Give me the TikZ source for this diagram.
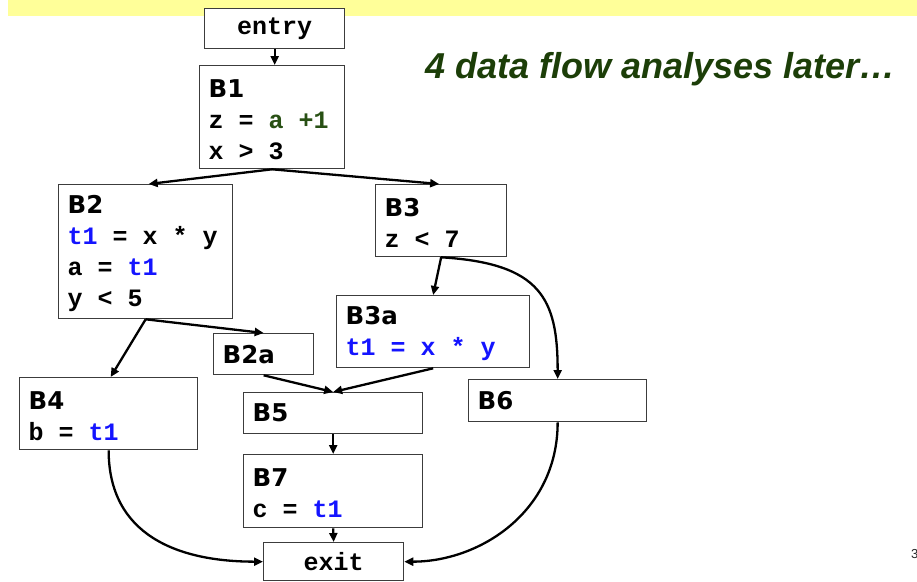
\documentclass[tikz,border=0pt]{standalone}
\usepackage{fontspec}
\setmainfont{Liberation Sans}
\setmonofont{Liberation Mono}
\newfontfamily\labelfont{DejaVu Sans}
\usetikzlibrary{arrows.meta}

\definecolor{bandyellow}{RGB}{255,255,153}
\definecolor{titlegreen}{RGB}{28,62,8}
\definecolor{codegreen}{RGB}{40,80,20}
\definecolor{codeblue}{RGB}{20,20,255}
\definecolor{boxgray}{RGB}{60,60,60}

% block label (sans bold), first line of a multi-line block, code line (mono bold, full-width spaces)
\newcommand\bname[1]{{\labelfont\bfseries\fontsize{24.5}{31}\selectfont #1}}
\newcommand\bfirst[1]{\rule{0pt}{22pt}\bname{#1}}
\newcommand\code[1]{{\ttfamily\bfseries\spaceskip=0.6em\relax #1}}
\newcommand\tone{\textcolor{codeblue}{t1}}

\tikzset{
  blk/.style={draw=boxgray, fill=white, line width=1.3pt, rectangle,
    inner xsep=9pt, inner ysep=0pt, anchor=north west, align=left,
    font=\fontsize{25}{31}\selectfont},
  termblk/.style={blk, align=center},
  flow/.style={-{Triangle[length=9pt,width=8pt]}, line width=2.3pt, black},
}

\begin{document}
\begin{tikzpicture}[x=1pt, y=-1pt]
\useasboundingbox (0,0) rectangle (917,581);

% header band
\fill[bandyellow] (8,0) rectangle (917,16);

% heading
\node[anchor=base west, inner sep=0pt, text=titlegreen,
  font=\fontsize{36}{40}\selectfont\bfseries\itshape] (title) at (425,78)
  {4 data flow analyses later…};

% basic blocks
\node[termblk, minimum height=40pt, text width=122pt] (entry) at (204,8) {\code{entry}};
\node[blk, minimum height=103pt, text width=127pt] (B1) at (199,65)
  {\bfirst{B1}\\ \code{z = \textcolor{codegreen}{a +1}}\\ \code{x > 3}};
\node[blk, minimum height=134pt, text width=156pt] (B2) at (58,184)
  {\bfirst{B2}\\ \code{\tone{} = x * y}\\ \code{a = \tone}\\ \code{y < 5}};
\node[blk, minimum height=72pt, text width=113pt] (B3) at (375,184)
  {\bfirst{B3}\\ \code{z < 7}};
\node[blk, minimum height=72pt, text width=175pt] (B3a) at (336,295)
  {\bfirst{B3a}\\ \code{\textcolor{codeblue}{t1 = x * y}}};
\node[blk, minimum height=41pt, text width=82pt] (B2a) at (213,333)
  {\bname{B2a}};
\node[blk, minimum height=72pt, text width=160pt] (B4) at (19,377)
  {\bfirst{B4}\\ \code{b = \tone}};
\node[blk, minimum height=41pt, text width=161pt] (B5) at (243,392)
  {\bname{B5}};
\node[blk, minimum height=42pt, text width=160pt] (B6) at (468,379)
  {\bname{B6}};
\node[blk, minimum height=73pt, text width=161pt] (B7) at (243,454)
  {\bfirst{B7}\\ \code{c = \tone}};
\node[termblk, minimum height=38pt, text width=122pt] (exit) at (263,542) {\code{exit}};

% control flow edges
\draw[flow] (entry.south) -- (entry.south |- B1.north);
\draw[flow] (B1.south) -- ([xshift=3pt]B2.north);
\draw[flow] (B1.south) -- ([xshift=-2pt]B3.north);
\draw[flow] (B2.south) -- ([xshift=2pt]B4.north);
\draw[flow] (B2.south) -- (B2a.north);
\draw[flow] (B3.south) -- (B3a.north);
\draw[flow] (B3.south) .. controls +(100,6) and +(0,-80) .. (B6.north);
\draw[flow] (B2a.south) -- (B5.north);
\draw[flow] (B3a.south) -- (B5.north);
\draw[flow] (B5.south) -- (B7.north);
\draw[flow] (B7.south) -- (exit.north);
\draw[flow] (B4.south) .. controls +(0,85) and +(-85,0) .. (exit.west);
\draw[flow] (B6.south) .. controls +(0,90) and +(75,0) .. (exit.east);

% page number
\node[anchor=base west, inner sep=0pt, text=black!85,
  font=\fontsize{13}{15}\selectfont] (pageno) at (911,558) {3};
\end{tikzpicture}
\end{document}
